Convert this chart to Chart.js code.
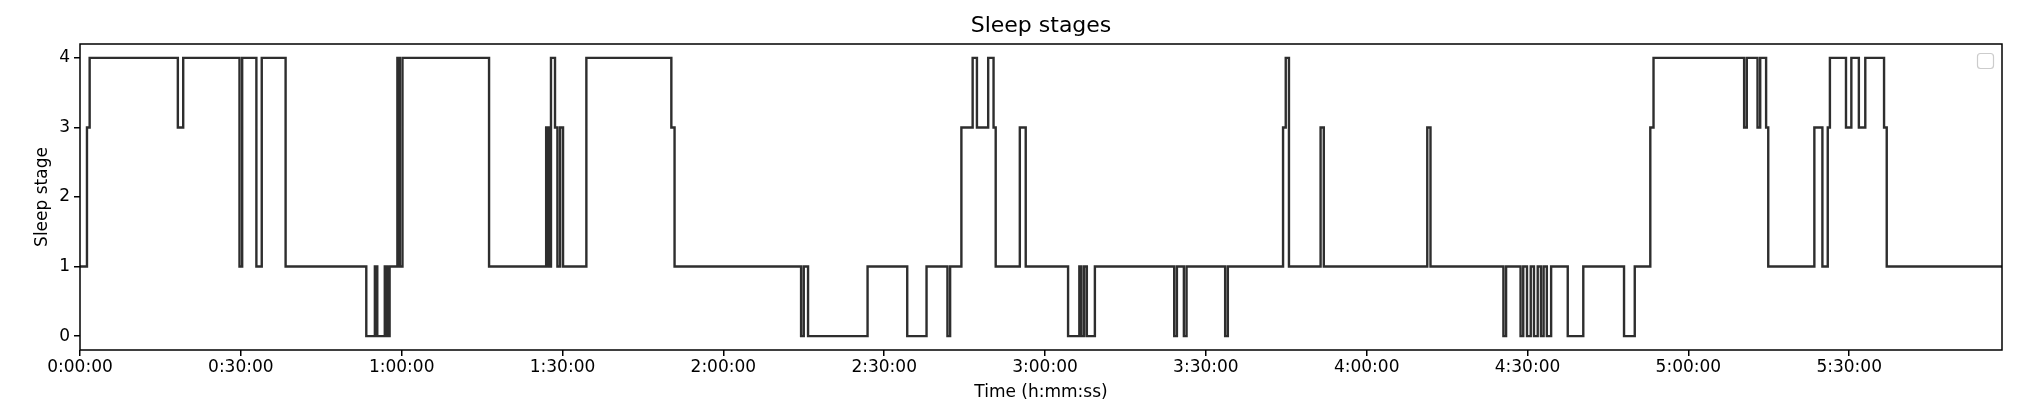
<!DOCTYPE html>
<html>
<head>
<meta charset="utf-8">
<title>Sleep stages</title>
<script src="https://cdn.jsdelivr.net/npm/chart.js@4"></script>
<style>
  body { margin: 0; background: #fff; }
  canvas { display: block; }
</style>
</head>
<body>
<canvas id="chart" width="2020" height="416"></canvas>
<script>
// hypnogram: minute at which each stage starts
const stageStart = [
  0, 1.3, 1.8, 18.25, 19.25, 29.75, 30.25, 32.9, 33.9, 38.35,
  53.4, 55.0, 55.45, 56.85, 57.3, 57.75, 59.2, 59.65, 60.15, 76.3,
  86.95, 87.4, 87.85, 88.6, 89.05, 89.55, 90.1, 94.45, 110.3, 110.9,
  134.5, 135.0, 135.8, 146.9, 154.3, 157.9, 161.8, 162.3, 164.4, 166.5,
  167.3, 169.4, 170.4, 170.8, 175.3, 176.4, 184.3, 186.4, 186.8, 187.3,
  187.8, 189.3, 204.1, 204.6, 205.9, 206.4, 213.6, 214.1, 224.4, 224.9,
  225.5, 231.4, 232.0, 251.3, 251.9, 265.5, 266.0, 268.7, 269.2, 269.9,
  270.6, 271.2, 271.9, 272.5, 273.0, 273.6, 274.4, 277.5, 280.4, 288.0,
  290.0, 292.9, 293.5, 310.4, 310.9, 312.9, 313.4, 314.5, 314.9, 323.5,
  325.0, 326.0, 326.4, 329.4, 330.4, 331.8, 333.0, 336.5, 337.0
];
const stageValue = [
  1, 3, 4, 3, 4, 1, 4, 1, 4, 1,
  0, 1, 0, 1, 0, 1, 4, 1, 4, 1,
  3, 1, 4, 3, 1, 3, 1, 4, 3, 1,
  0, 1, 0, 1, 0, 1, 0, 1, 3, 4,
  3, 4, 3, 1, 3, 1, 0, 1, 0, 1,
  0, 1, 0, 1, 0, 1, 0, 1, 3, 4,
  1, 3, 1, 3, 1, 0, 1, 0, 1, 0,
  1, 0, 1, 0, 1, 0, 1, 0, 1, 0,
  1, 3, 4, 3, 4, 3, 4, 3, 1, 3,
  1, 3, 4, 3, 4, 3, 4, 3, 1
];
const endMinute = 358.5;
const xTicks = [0, 30, 60, 90, 120, 150, 180, 210, 240, 270, 300, 330];
const yTicks = [0, 1, 2, 3, 4];
const titleText = 'Sleep stages';

const points = stageStart.map((t, i) => ({ x: t, y: stageValue[i] }));
points.push({ x: endMinute, y: stageValue[stageValue.length - 1] });

const hms = (m) => {
  const s = Math.round(m * 60);
  const h = Math.floor(s / 3600), mm = Math.floor((s % 3600) / 60), ss = s % 60;
  return h + ':' + String(mm).padStart(2, '0') + ':' + String(ss).padStart(2, '0');
};

const FONT = 'DejaVu Sans';
const axisCommon = {
  grid: { drawOnChartArea: false, drawTicks: true, tickLength: 6, color: '#000', lineWidth: 1.5 },
  border: { display: false },
  ticks: { color: '#000', font: { family: FONT, size: 17 }, autoSkip: false, maxRotation: 0, padding: 4 },
};

// axes frame, title centred over the plot, empty legend box (top right)
const frame = {
  id: 'frame',
  afterDatasetsDraw(chart) {
    const { ctx, chartArea: a } = chart;
    ctx.save();
    ctx.strokeStyle = '#000';
    ctx.lineWidth = 1.5;
    ctx.strokeRect(a.left, a.top, a.right - a.left, a.bottom - a.top);

    ctx.fillStyle = '#000';
    ctx.font = '22px "' + FONT + '"';
    ctx.textAlign = 'center';
    ctx.textBaseline = 'middle';
    ctx.fillText(titleText, (a.left + a.right) / 2, a.top - 17.5);

    ctx.strokeStyle = '#cccccc';
    ctx.lineWidth = 1.2;
    ctx.fillStyle = '#fff';
    ctx.beginPath();
    ctx.roundRect(a.right - 24.5, a.top + 9.5, 16, 15, 3);
    ctx.fill();
    ctx.stroke();
    ctx.restore();
  }
};

new Chart(document.getElementById('chart'), {
  type: 'line',
  data: {
    datasets: [{
      data: points,
      stepped: true,
      borderColor: '#2e2e2e',
      borderWidth: 2.4,
      borderJoinStyle: 'miter',
      pointRadius: 0,
      fill: false,
    }]
  },
  options: {
    responsive: false,
    animation: false,
    layout: { padding: { left: 0, right: 18, top: 44, bottom: 0 } },
    plugins: {
      legend: { display: false },
      tooltip: { enabled: false },
      title: { display: false },
    },
    scales: {
      x: {
        ...axisCommon,
        type: 'linear', min: 0, max: endMinute,
        afterBuildTicks: (s) => { s.ticks = xTicks.map(v => ({ value: v })); },
        afterFit: (s) => { s.height = 66; },
        ticks: { ...axisCommon.ticks, padding: 1.5, callback: (v) => hms(v) },
        title: { display: true, text: 'Time (h:mm:ss)', color: '#000', font: { family: FONT, size: 17 }, padding: { top: 0, bottom: 13 } },
      },
      y: {
        ...axisCommon,
        type: 'linear', min: -0.2, max: 4.2,
        afterBuildTicks: (s) => { s.ticks = yTicks.map(v => ({ value: v })); },
        afterFit: (s) => { s.width = 80; },
        ticks: { ...axisCommon.ticks, callback: (v) => String(v) },
        title: { display: true, text: 'Sleep stage', color: '#000', font: { family: FONT, size: 17 }, padding: { top: 32, bottom: 0 } },
      },
    },
  },
  plugins: [frame],
});
</script>
</body>
</html>
